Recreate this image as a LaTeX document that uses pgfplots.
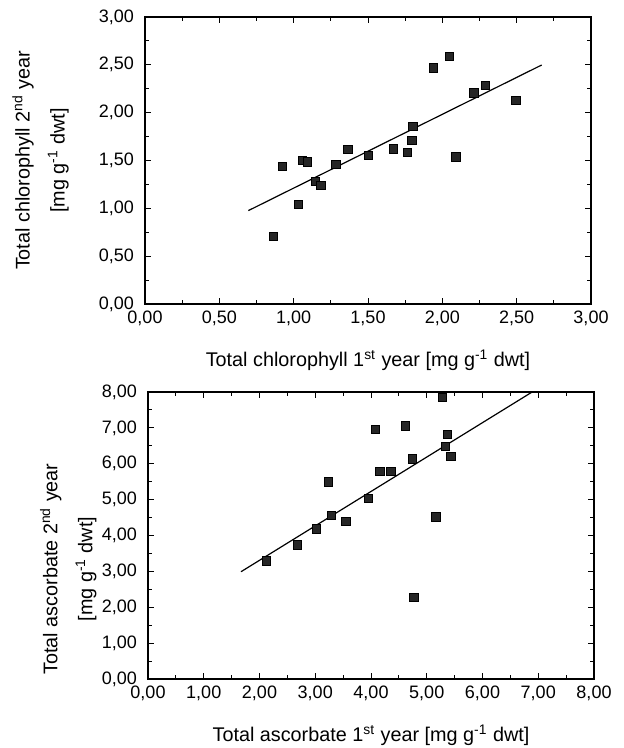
\documentclass[border=0pt]{standalone}
\usepackage{fontspec}
\setmainfont{Liberation Sans}
\usepackage{pgfplots}
\pgfplotsset{compat=1.18}
\usepackage{pgfplotstable}
\pgfplotstableread{
x y
0.863 0.707
0.924 1.439
1.058 1.502
1.092 1.484
1.031 1.038
1.148 1.282
1.182 1.240
1.283 1.460
1.365 1.617
1.504 1.551
1.670 1.620
1.767 1.585
1.794 1.707
1.803 1.857
1.939 2.467
2.047 2.589
2.090 1.537
2.211 2.206
2.291 2.282
2.496 2.129
}\chldata
\pgfplotstableread{
x y
2.129 3.289
2.679 3.735
3.025 4.181
3.234 5.491
3.294 4.553
3.552 4.386
3.952 5.036
4.084 6.950
4.161 5.788
4.359 5.788
4.616 7.052
4.747 6.132
4.771 2.276
5.166 4.516
5.285 7.842
5.333 6.476
5.369 6.820
5.435 6.197
}\ascdata
\pgfplotsset{
  myax/.style={
    scale only axis, width=223pt, height=143.5pt,
    axis line style={line width=0.6pt},
    tick style={black, line width=0.5pt},
    major tick length=3pt, minor tick length=1.8pt,
    tick align=inside, tick pos=both,
    minor tick num=1,
    tick label style={font=\fontsize{9}{10}\selectfont},
    yticklabel style={xshift=-2pt},
    label style={font=\fontsize{9.9}{17.5}\selectfont, align=center},
    /pgf/number format/fixed,
    /pgf/number format/fixed zerofill,
    /pgf/number format/precision=2,
    /pgf/number format/use comma,
    /pgf/number format/assume math mode=true,
  },
  pts/.style={only marks, mark=square*, mark size=2.1pt,
    mark options={fill=black!85, draw=black, line width=0.4pt}},
  fit/.style={black, line width=0.6pt, no marks},
}
\begin{document}
\begin{tikzpicture}
\useasboundingbox (-74pt,-34.5pt) rectangle (237.5pt,339.5pt);
% top plot
\begin{axis}[myax, at={(-1.5pt,187.5pt)}, anchor=south west,
  xmin=0, xmax=3, ymin=0, ymax=3,
  xtick={0,0.5,...,3}, ytick={0,0.5,...,3},
  xlabel={Total chlorophyll 1\textsuperscript{st} year [mg g\textsuperscript{-1} dwt]},
  ylabel={Total chlorophyll 2\textsuperscript{nd} year\\{}[mg g\textsuperscript{-1} dwt]},
  xlabel style={at={(axis description cs:0.5,-0.195)}, anchor=center},
  ylabel style={at={(axis description cs:-0.234,0.5)}, anchor=center},
]
\addplot[pts] table[x=x,y=y] {\chldata};
\addplot[fit] coordinates {(0.695,0.976) (2.668,2.498)};
\end{axis}
% bottom plot
\begin{axis}[myax, at={(0pt,0pt)}, anchor=south west,
  xmin=0, xmax=8, ymin=0, ymax=8,
  xtick={0,1,...,8}, ytick={0,1,...,8},
  xlabel={Total ascorbate 1\textsuperscript{st} year [mg g\textsuperscript{-1} dwt]},
  ylabel={Total ascorbate 2\textsuperscript{nd} year\\{}[mg g\textsuperscript{-1} dwt]},
  xlabel style={at={(axis description cs:0.5,-0.195)}, anchor=center},
  ylabel style={at={(axis description cs:-0.179,0.383)}, anchor=center},
]
\addplot[pts] table[x=x,y=y] {\ascdata};
\addplot[fit] coordinates {(1.668,2.99) (6.88,7.99)};
\end{axis}
\end{tikzpicture}
\end{document}
